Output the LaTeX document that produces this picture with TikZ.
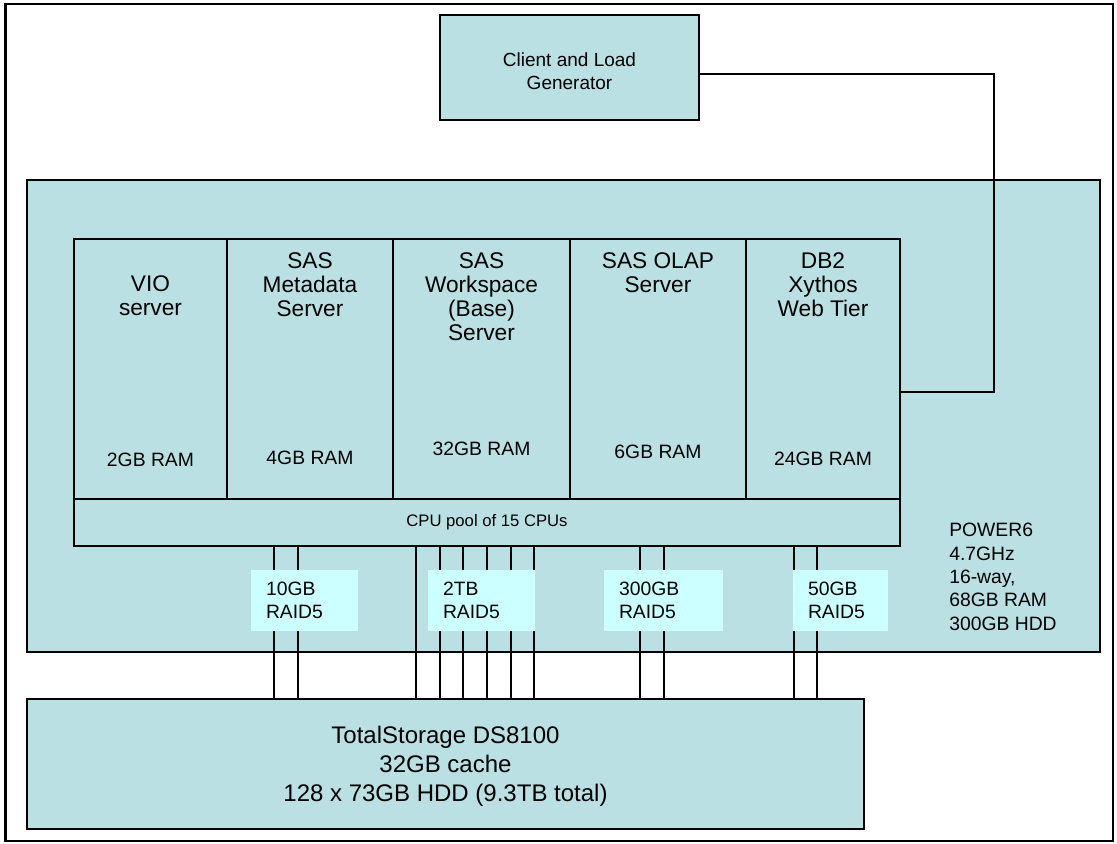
\documentclass[tikz,border=0pt]{standalone}
\usepackage{fontspec}
\setmainfont{Liberation Sans}
\usetikzlibrary{fit,positioning}
\definecolor{boxfill}{HTML}{BBE0E3}
\definecolor{raidfill}{HTML}{CCFFFF}

\begin{document}
\begin{tikzpicture}[x=0.75pt,y=-0.75pt,
  every node/.style={inner sep=0pt,font=\fontsize{14.5}{17.5}\selectfont},
  box/.style={draw=black,line width=0.9pt,fill=boxfill},
  srvname/.style={align=center,anchor=north,font=\fontsize{17}{18}\selectfont},
  ramlbl/.style={font=\fontsize{14.5}{17}\selectfont},
  raid/.style={fill=raidfill,align=left,inner xsep=11.25pt,minimum height=45.75pt},
  wire/.style={draw=black,line width=0.8pt}]
\useasboundingbox (0,0) rectangle (1117,843);
% machine and client
\node[box,fit={(27,180) (1100,652)}] (power) {};
\node[anchor=north west,align=left] (powertxt) at (949,523) {POWER6\\4.7GHz\\16-way,\\68GB RAM\\300GB HDD};
\node[box,fit={(440,15) (699,120)}] (client) {};
\node[align=center,font=\fontsize{14.25}{17.25}\selectfont] (clienttxt) at ([yshift=-3pt]client.center) {Client and Load\\Generator};
% partitions
\node[box,fit={(74,239) (227,499)}] (vio) {};
\node[box,fit={(227,239) (393,499)}] (meta) {};
\node[box,fit={(393,239) (570,499)}] (work) {};
\node[box,fit={(570,239) (746,499)}] (olap) {};
\node[box,fit={(746,239) (900,499)}] (db2) {};
\node[box,fit={(74,499) (900,546)}] (cpu) {};
\node[font=\fontsize{12.5}{15}\selectfont] (cputxt) at (cpu.center) {CPU pool of 15 CPUs};
\node[srvname] (vioname) at (vio.north |- 0,275) {VIO\\server};
\node[srvname] (metaname) at (meta.north |- 0,252) {SAS\\Metadata\\Server};
\node[srvname] (workname) at (work.north |- 0,252) {SAS\\Workspace\\(Base)\\Server};
\node[srvname] (olapname) at (olap.north |- 0,252) {SAS OLAP\\Server};
\node[srvname] (db2name) at (db2.north |- 0,252) {DB2\\Xythos\\Web Tier};
\node[ramlbl] (vioram) at (vio.north |- 0,460) {2GB RAM};
\node[ramlbl] (metaram) at (meta.north |- 0,458) {4GB RAM};
\node[ramlbl] (workram) at (work.north |- 0,449) {32GB RAM};
\node[ramlbl] (olapram) at (olap.north |- 0,452) {6GB RAM};
\node[ramlbl] (db2ram) at (db2.north |- 0,459) {24GB RAM};
\coordinate (bend) at (994,74);
\coordinate (db2port) at (db2.east |- 0,392);
\draw[wire] (client.east |- bend) -- (bend) |- (db2port);
% storage
\node[box,fit={(27,699) (864,829)}] (store) {};
\node[align=center,font=\fontsize{18}{21.75}\selectfont] (storetxt) at ([yshift=-1.5pt]store.center) {TotalStorage DS8100\\32GB cache\\128 x 73GB HDD (9.3TB total)};
\foreach \x in {274,298,416,440,463,487,511,534,640,664,794,817}
  \draw[wire] (cpu.south -| \x,0) -- (store.north -| \x,0);
\node[raid,text width=57.75pt] (raida) at (304.5,600.5) {10GB\\RAID5};
\node[raid,text width=57.75pt] (raidb) at (481.5,600.5) {2TB\\RAID5};
\node[raid,text width=66.75pt] (raidc) at (663.5,600.5) {300GB\\RAID5};
\node[raid,text width=48.75pt] (raidd) at (840.5,600.5) {50GB\\RAID5};
\draw[line width=2pt] (5.5,4) rectangle (1113,841);
\end{tikzpicture}
\end{document}
